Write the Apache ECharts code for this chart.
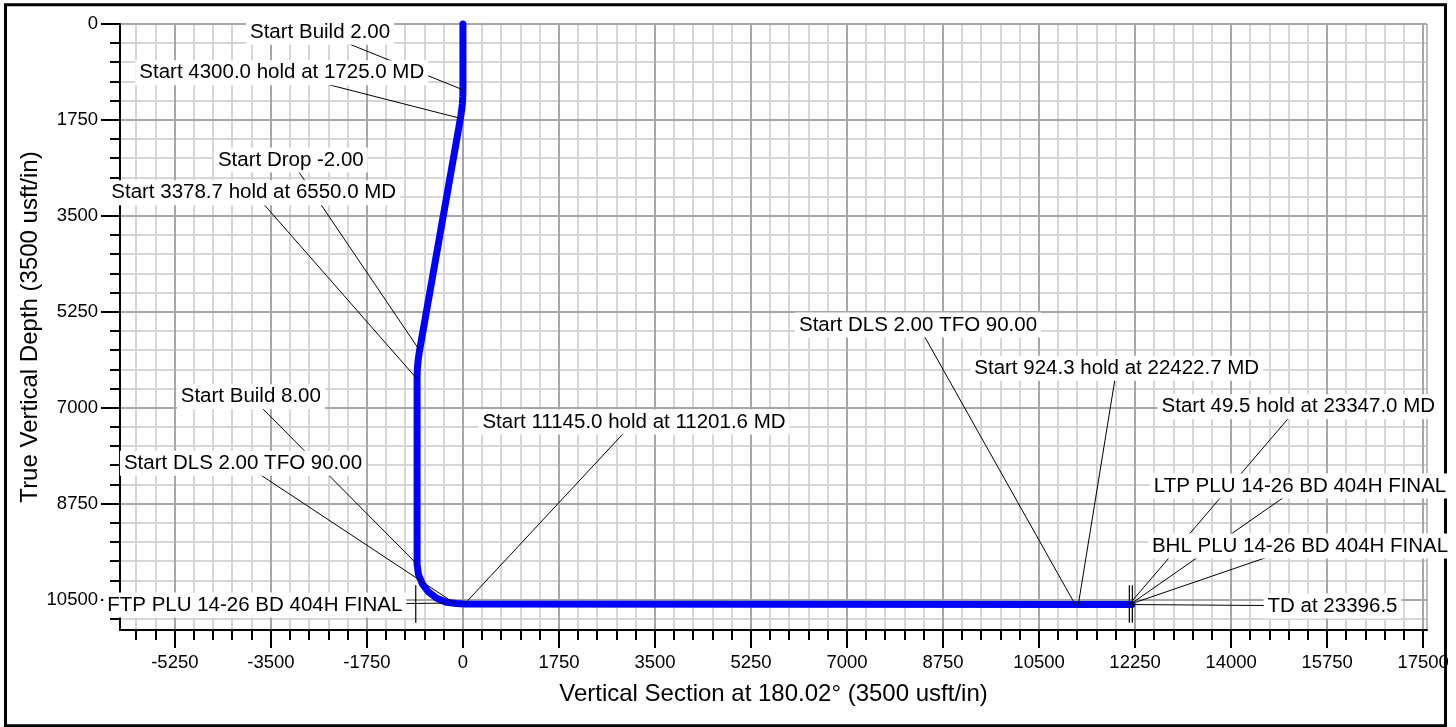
<!DOCTYPE html>
<html>
<head>
<meta charset="utf-8">
<script src="https://cdn.jsdelivr.net/npm/echarts@6/dist/echarts.min.js"></script>
<style>
  html, body { margin: 0; padding: 0; background: #fff; }
  #chart { width: 1456px; height: 727px; }
</style>
</head>
<body>
<div id="chart"></div>
<script>
// well path, vertical section (usft) and true vertical depth (usft)
const pathVS = [0, 0, -2.6, -10.4, -23.3, -45.6, -790.0, -812.3, -825.2, -833.0, -835.6, -835.6,
  -811.2, -739.7, -625.8, -477.5, -304.8, -119.4, 28, 11158, 11216, 12140, 12190];
const pathTVD = [0, 1200, 1325, 1449.7, 1573.9, 1722.1, 5950.1, 6098.2, 6222.5, 6347.2, 6472.2, 9850.9,
  10036.3, 10209.0, 10357.3, 10471.1, 10542.7, 10567.1, 10578, 10585, 10585, 10586, 10586];

// annotations: text, point on the path, label centre
const noteText = [
  "Start Build 2.00",
  "Start 4300.0 hold at 1725.0 MD",
  "Start Drop -2.00",
  "Start 3378.7 hold at 6550.0 MD",
  "Start Build 8.00",
  "Start DLS 2.00 TFO 90.00",
  "Start 11145.0 hold at 11201.6 MD",
  "FTP PLU 14-26 BD 404H FINAL",
  "Start DLS 2.00 TFO 90.00",
  "Start 924.3 hold at 22422.7 MD",
  "Start 49.5 hold at 23347.0 MD",
  "LTP PLU 14-26 BD 404H FINAL",
  "BHL PLU 14-26 BD 404H FINAL",
  "TD at 23396.5",
];
const noteAtVS = [0, -40, -790, -835.6, -835.6, -140, 28, -330, 11158, 11216, 12140, 12170, 12170, 12190];
const noteAtTVD = [1200, 1722, 5950, 6472, 9851, 10570, 10578, 10560, 10585, 10585, 10586, 10576, 10576, 10586];
const noteLabelVS = [-2604, -3302, -3137, -3813, -3866, -4008, 3118, -3794, 8294, 11915, 15225, 15256, 15256, 15848];
const noteLabelTVD = [151, 888, 2480, 3076, 6796, 8010, 7257, 10594, 5488, 6278, 6978, 8424, 9518, 10612];

// target markers (FTP, LTP, BHL)
const targetVS = [-860, 12145, 12200];
const targetTVD = [10576, 10576, 10576];
const targetHalf = 340;

// axes
const xTicks = [-5250, -3500, -1750, 0, 1750, 3500, 5250, 7000, 8750, 10500, 12250, 14000, 15750, 17500];
const yTicks = [0, 1750, 3500, 5250, 7000, 8750, 10500];
const minorStep = 350;
const xMin = -6250, xMax = 17570, yMin = 0, yMax = 11050;

const FONT = '"Liberation Sans", Arial, Helvetica, sans-serif';

const chart = echarts.init(document.getElementById("chart"));

function crisp(v, w) {
  return w % 2 === 1 ? Math.round(v) + 0.5 : Math.round(v);
}

function renderGrid(params, api) {
  const kids = [];
  const seg = (x1, y1, x2, y2, stroke, w) => kids.push({
    type: "line",
    shape: { x1, y1, x2, y2 },
    style: { stroke, lineWidth: w },
  });
  const top = api.coord([xMin, yMin])[1];
  const bottom = api.coord([xMin, yMax])[1];
  const left = api.coord([xMin, yMin])[0];
  const right = api.coord([xMax, yMin])[0];

  // minor lines
  for (let v = Math.ceil(xMin / minorStep) * minorStep; v <= xMax; v += minorStep) {
    if (v % 1750 === 0) continue;
    const x = crisp(api.coord([v, 0])[0], 2);
    seg(x, top, x, bottom, "#d6d6d6", 2);
    seg(x, bottom, x, bottom + 10, "#000", 2);
  }
  for (let v = minorStep; v <= yMax; v += minorStep) {
    if (v % 1750 === 0) continue;
    const y = crisp(api.coord([0, v])[1], 2);
    seg(left, y, right, y, "#d6d6d6", 2);
    seg(left - 10, y, left, y, "#000", 2);
  }
  seg(crisp(right, 2), top, crisp(right, 2), bottom, "#bdbdbd", 2);
  // major lines
  xTicks.forEach((v) => {
    const x = crisp(api.coord([v, 0])[0], 2);
    seg(x, top, x, bottom, "#a6a6a6", 2);
    seg(x, bottom, x, bottom + 18, "#000", 2);
  });
  yTicks.forEach((v) => {
    const y = crisp(api.coord([0, v])[1], 2);
    seg(left, y, right, y, "#a6a6a6", 2);
    seg(left - 19, y, left, y, "#000", 2);
  });
  return { type: "group", children: kids };
}

function renderTargets(params, api) {
  const i = params.dataIndex;
  const p1 = api.coord([targetVS[i], targetTVD[i] - targetHalf]);
  const p2 = api.coord([targetVS[i], targetTVD[i] + targetHalf]);
  return {
    type: "line",
    shape: { x1: p1[0], y1: p1[1], x2: p2[0], y2: p2[1] },
    style: { stroke: "#000", lineWidth: 1.2 },
  };
}

function renderNotes(params, api) {
  const i = params.dataIndex;
  const lab = api.coord([noteLabelVS[i], noteLabelTVD[i]]);
  const at = api.coord([noteAtVS[i], noteAtTVD[i]]);
  return {
    type: "group",
    children: [
      {
        type: "line",
        z2: 1,
        shape: { x1: lab[0], y1: lab[1], x2: at[0], y2: at[1] },
        style: { stroke: "#000", lineWidth: 1 },
      },
      {
        type: "text",
        z2: 20,
        style: {
          text: noteText[i],
          x: lab[0],
          y: lab[1],
          align: "center",
          verticalAlign: "middle",
          fill: "#000",
          font: "20.5px " + FONT,
          backgroundColor: "#fff",
          padding: [2, 4, 2, 4],
        },
      },
    ],
  };
}

const option = {
  animation: false,
  backgroundColor: "#fff",
  grid: { left: 120, top: 24, width: 1307, height: 606, containLabel: false, outerBoundsMode: "none" },
  xAxis: {
    type: "value",
    min: xMin,
    max: xMax,
    z: 2,
    name: "Vertical Section at 180.02\u00b0 (3500 usft/in)",
    nameLocation: "middle",
    nameGap: 52,
    nameMoveOverlap: false,
    nameTextStyle: { fontSize: 24, color: "#000", fontFamily: FONT },
    axisLine: { show: true, onZero: false, lineStyle: { color: "#000", width: 2 } },
    axisTick: { show: false },
    splitLine: { show: false },
    minorSplitLine: { show: false },
    axisLabel: {
      customValues: xTicks,
      formatter: (v) => String(v),
      margin: 23,
      fontSize: 18.5,
      color: "#000",
      fontFamily: FONT,
    },
  },
  yAxis: {
    type: "value",
    inverse: true,
    min: yMin,
    max: yMax,
    z: 2,
    name: "True Vertical Depth (3500 usft/in)",
    nameLocation: "middle",
    nameRotate: 90,
    nameGap: 78,
    nameMoveOverlap: false,
    nameTextStyle: { fontSize: 24, color: "#000", fontFamily: FONT },
    axisLine: { show: true, onZero: false, lineStyle: { color: "#000", width: 2 } },
    axisTick: { show: false },
    splitLine: { show: false },
    axisLabel: {
      customValues: yTicks,
      formatter: (v) => String(v),
      margin: 22,
      fontSize: 18.5,
      color: "#000",
      fontFamily: FONT,
    },
  },
  graphic: [
    {
      type: "rect",
      z: 0,
      silent: true,
      shape: { x: 5.5, y: 4.8, width: 1440, height: 721 },
      style: { fill: "none", stroke: "#000", lineWidth: 3 },
    },
  ],
  series: [
    {
      type: "custom",
      z: 1,
      silent: true,
      clip: false,
      renderItem: renderGrid,
      data: [[0, 0]],
    },
    {
      type: "line",
      z: 3,
      clip: false,
      showSymbol: false,
      silent: true,
      data: pathVS.map((v, i) => [v, pathTVD[i]]),
      lineStyle: { color: "#0000ff", width: 7, cap: "round", join: "round" },
    },
    {
      type: "custom",
      z: 4,
      silent: true,
      clip: false,
      renderItem: renderTargets,
      data: targetVS.map((v, i) => [v, targetTVD[i]]),
    },
    {
      type: "custom",
      z: 5,
      silent: true,
      clip: false,
      renderItem: renderNotes,
      data: noteText.map((t, i) => [noteLabelVS[i], noteLabelTVD[i]]),
    },
  ],
};

chart.setOption(option);
</script>
</body>
</html>
